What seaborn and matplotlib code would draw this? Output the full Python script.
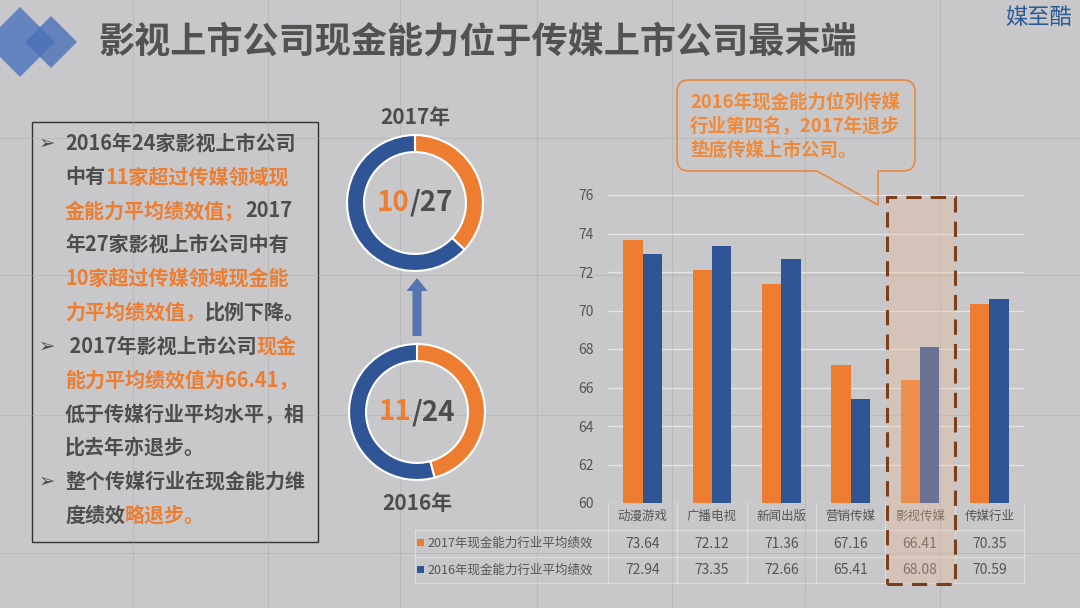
import numpy as np
import pandas as pd
import seaborn as sns
import matplotlib.pyplot as plt
from matplotlib.patches import Rectangle, FancyBboxPatch, Polygon, FancyArrow

sns.set_style('white')
plt.rcParams['font.family'] = ['Noto Sans CJK SC', 'DejaVu Sans']

# 数据
cats = ['动漫游戏', '广播电视', '新闻出版', '营销传媒', '影视传媒', '传媒行业']
series = ['2017年现金能力行业平均绩效', '2016年现金能力行业平均绩效']
v2017 = [73.64, 72.12, 71.36, 67.16, 66.41, 70.35]
v2016 = [72.94, 73.35, 72.66, 65.41, 68.08, 70.59]
ring_2017 = [10, 27]   # 超过平均值家数 / 总家数
ring_2016 = [11, 24]
yticks = [60, 62, 64, 66, 68, 70, 72, 74, 76]

orange = '#ed7d31'
blue = '#2f5597'
gray = '#4d4d4d'
bgc = '#c8c8ca'

fig = plt.figure(figsize=(10.8, 6.08), dpi=100, facecolor=bgc)
bg = fig.add_axes([0, 0, 1, 1])
bg.set_xlim(0, 1080)
bg.set_ylim(608, 0)
bg.axis('off')
r = fig.canvas.get_renderer()

# 背景网格
for x in [133, 268, 400, 537, 672, 805, 940]:
    bg.plot([x, x], [0, 608], color='#a9a9ab', lw=0.8, alpha=0.45)
for y in [138, 275, 415, 553]:
    bg.plot([0, 1080], [y, y], color='#a9a9ab', lw=0.8, alpha=0.45)


def rich(x, y, parts, size, ha='left', weight='bold'):
    ts = []
    cx = x
    for s, c in parts:
        t = bg.text(cx, y, s, color=c, fontsize=size, fontweight=weight,
                    ha='left', va='center')
        cx += t.get_window_extent(renderer=r).width
        ts.append(t)
    if ha == 'center':
        d = (cx - x) / 2
        for t in ts:
            t.set_x(t.get_position()[0] - d)
    return ts


# 标题
bg.add_patch(Polygon([(20, 7), (55, 42), (20, 77), (-15, 42)], color='#5279bd', alpha=0.85, lw=0))
bg.add_patch(Polygon([(51, 16), (77, 42), (51, 68), (25, 42)], color='#4a70b8', alpha=0.8, lw=0))
bg.text(98, 42, '影视上市公司现金能力位于传媒上市公司最末端', fontsize=26,
        fontweight='bold', color='#525252', va='center')
bg.text(1072, 18, '媒至酷', fontsize=16, color='#2b5a96', va='center', ha='right',
        fontweight='medium')

# 左侧文字框
bg.add_patch(Rectangle((32, 122), 286, 420, fill=False, ec='#333333', lw=1))
lines = [
    [('2016年24家影视上市公司', gray)],
    [('中有', gray), ('11家超过传媒领域现', orange)],
    [('金能力平均绩效值；', orange), ('2017', gray)],
    [('年27家影视上市公司中有', gray)],
    [('10家超过传媒领域现金能', orange)],
    [('力平均绩效值，', orange), ('比例下降。', gray)],
    [(' 2017年影视上市公司', gray), ('现金', orange)],
    [('能力平均绩效值为66.41，', orange)],
    [('低于传媒行业平均水平，相', gray)],
    [('比去年亦退步。', gray)],
    [('整个传媒行业在现金能力维', gray)],
    [('度绩效', gray), ('略退步。', orange)],
]
for i, parts in enumerate(lines):
    y = 143 + 33.8 * i
    if i in (0, 6, 10):
        bg.text(47, y, '➢', fontsize=14, color=gray, ha='center', va='center')
    rich(65, y, parts, 14.4)

# 环形图
for ring, cx, cy, year, ly in [(ring_2017, 415, 203, '2017年', 117),
                               (ring_2016, 417, 412, '2016年', 503)]:
    rax = fig.add_axes([(cx - 70) / 1080, 1 - (cy + 70) / 608, 140 / 1080, 140 / 608])
    rax.pie([ring[0], ring[1] - ring[0]], colors=[orange, blue], startangle=90,
            counterclock=False, radius=1,
            wedgeprops=dict(width=0.25, edgecolor='white', linewidth=1.5))
    rax.set_xlim(-1.03, 1.03)
    rax.set_ylim(-1.03, 1.03)
    rax.set_aspect('equal')
    rax.axis('off')
    rich(cx, cy, [(str(ring[0]), orange), ('/' + str(ring[1]), gray)], 20, ha='center')
    bg.text(cx, ly, year, fontsize=15, fontweight='bold', color=gray, ha='center', va='center')

bg.add_patch(FancyArrow(417, 336, 0, -58, width=9, head_width=21, head_length=13,
                        length_includes_head=True, color='#5674b0', lw=0))

# 柱状图
df = pd.DataFrame({
    '类别': cats * 2,
    '系列': [series[0]] * len(cats) + [series[1]] * len(cats),
    '绩效': v2017 + v2016,
})
ax = fig.add_axes([608 / 1080, 105 / 608, 416 / 1080, 308 / 608])
ax.set_facecolor('none')
sns.barplot(data=df, x='类别', y='绩效', hue='系列', hue_order=series, order=cats,
            palette=[orange, blue], width=0.56, gap=0, saturation=1,
            linewidth=0, legend=False, ax=ax)
ax.set_ylim(60, 76)
ax.set_xlim(-0.5, 5.5)
ax.set_yticks(yticks)
ax.yaxis.grid(True, color='white', alpha=0.55, lw=1)
ax.set_axisbelow(True)
ax.set_xlabel('')
ax.set_ylabel('')
ax.tick_params(axis='x', labelbottom=False, length=0)
ax.tick_params(axis='y', length=0, pad=10, labelsize=10, labelcolor='#555555')
sns.despine(ax=ax, left=True, bottom=True)

# 数据表
tr = ax.get_xaxis_transform()
h = 308
rows = [0, -27 / h, -54 / h, -80 / h]
for i, c in enumerate(cats):
    ax.text(i, -13.5 / h, c, transform=tr, ha='center', va='center', fontsize=9,
            color='#555555', clip_on=False)
    ax.text(i, -40.5 / h, f'{v2017[i]:.2f}', transform=tr, ha='center', va='center',
            fontsize=10, color='#555555', clip_on=False)
    ax.text(i, -67 / h, f'{v2016[i]:.2f}', transform=tr, ha='center', va='center',
            fontsize=10, color='#555555', clip_on=False)
for k in range(7):
    ax.plot([k - 0.5, k - 0.5], [0, rows[-1]], transform=tr, color='white', alpha=0.35,
            lw=1, clip_on=False)
for y in [530, 557, 583]:
    bg.plot([415, 1024], [y, y], color='white', alpha=0.35, lw=1)
bg.plot([415, 415], [530, 583], color='white', alpha=0.35, lw=1)
for y, s, c in [(543, series[0], orange), (570, series[1], blue)]:
    bg.add_patch(Rectangle((417, y - 4), 7, 7, color=c, lw=0))
    bg.text(427, y, s, fontsize=9, color='#555555', va='center')

# 高亮框
ax.add_patch(Rectangle((3.53, -0.262), 0.98, 1.255, transform=tr, facecolor='#f2b890',
                       alpha=0.3, lw=0, clip_on=False, zorder=5))
ax.add_patch(Rectangle((3.53, -0.262), 0.98, 1.255, transform=tr, fill=False,
                       ec='#7b3f1d', lw=2.2, ls=(0, (5, 3)), clip_on=False, zorder=6))

# 标注框
bg.add_patch(FancyBboxPatch((677, 80), 238, 91, boxstyle='round,pad=0,rounding_size=12',
                            fill=False, ec='#e8893f', lw=1.2))
bg.plot([818, 877], [171, 171], color=bgc, lw=2.5)
bg.plot([817, 878, 878], [171, 205, 171], color='#e8893f', lw=1.2)
for i, s in enumerate(['2016年现金能力位列传媒', '行业第四名，2017年退步', '垫底传媒上市公司。']):
    bg.text(690, 102 + 24 * i, s, fontsize=13.3, fontweight='bold', color='#ef8a3c', va='center')

fig.savefig('out.png', dpi=100, facecolor=bgc)
